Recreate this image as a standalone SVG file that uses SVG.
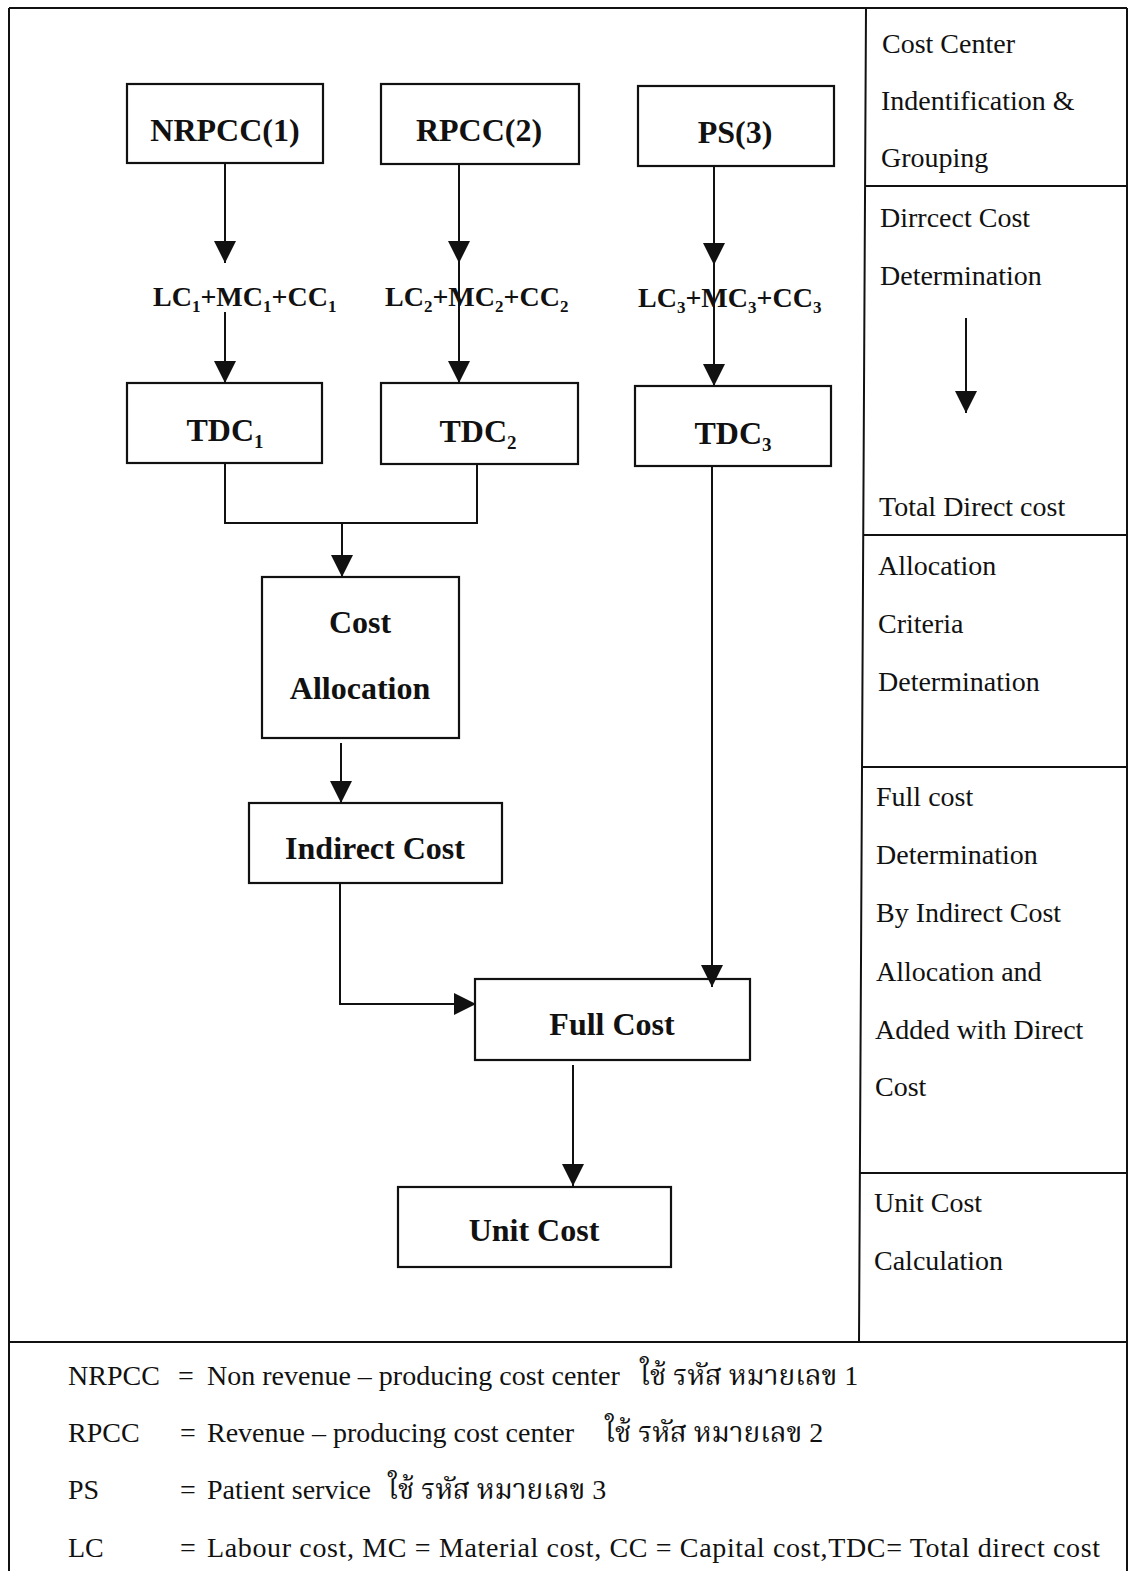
<svg xmlns="http://www.w3.org/2000/svg" width="1132" height="1571" viewBox="0 0 1132 1571">
<style>
.frame{fill:none;stroke:#111;stroke-width:2}
.box{fill:#fff;stroke:#111;stroke-width:2.2}
.lbl{font-family:"Liberation Serif","Times New Roman",serif;font-weight:bold;font-size:32px;fill:#111;text-anchor:middle}
.frm{font-family:"Liberation Serif","Times New Roman",serif;font-weight:bold;font-size:28px;fill:#111}
.side{font-family:"Liberation Serif","Times New Roman",serif;font-size:28px;fill:#111}
.leg{font-family:"Liberation Serif","Times New Roman",serif;font-size:28px;fill:#111}
.thai{font-family:"Liberation Serif","Noto Serif Thai","Noto Sans Thai","Tlwg Typo",serif;font-size:28px;fill:#111}
.con{fill:none;stroke:#111;stroke-width:2}
</style>
<defs>
<marker id="ah" markerUnits="userSpaceOnUse" markerWidth="22" markerHeight="22" viewBox="0 0 20 20" refX="20" refY="10" orient="auto">
<path d="M0,0 L20,10 L0,20 z" fill="#111"/>
</marker>
</defs>
<rect width="1132" height="1571" fill="#fff"/>

<g id="frame">
<path class="frame" d="M9,8 L1127,8 M9,8 L9,1580 M1127,8 L1127,1580 M9,1342 L1127,1342"/>
<path class="frame" d="M866,8 L859,1342 M865,186 L1127,186 M863,535 L1127,535 M862,767 L1127,767 M860,1173 L1127,1173"/>
</g>

<g id="side-labels">
<text class="side" x="882" y="53">Cost Center</text>
<text class="side" x="881" y="110">Indentification &amp;</text>
<text class="side" x="881" y="167">Grouping</text>
<text class="side" x="880" y="227">Dirrcect Cost</text>
<text class="side" x="880" y="285">Determination</text>
<text class="side" x="879" y="516">Total Direct cost</text>
<text class="side" x="878" y="575">Allocation</text>
<text class="side" x="878" y="633">Criteria</text>
<text class="side" x="878" y="691">Determination</text>
<text class="side" x="876" y="806">Full cost</text>
<text class="side" x="876" y="864">Determination</text>
<text class="side" x="876" y="922">By Indirect Cost</text>
<text class="side" x="876" y="981">Allocation and</text>
<text class="side" x="875" y="1039">Added with Direct</text>
<text class="side" x="875" y="1096">Cost</text>
<text class="side" x="874" y="1212">Unit Cost</text>
<text class="side" x="874" y="1270">Calculation</text>
</g>

<g id="n-nrpcc"><rect class="box" x="127" y="84" width="196" height="79"/><text class="lbl" x="225" y="141">NRPCC(1)</text></g>
<g id="n-rpcc"><rect class="box" x="381" y="84" width="198" height="80"/><text class="lbl" x="479" y="141">RPCC(2)</text></g>
<g id="n-ps"><rect class="box" x="638" y="86" width="196" height="80"/><text class="lbl" x="735" y="143">PS(3)</text></g>

<g id="f1"><text class="frm" x="153" y="306">LC<tspan font-size="17" dy="6">1</tspan><tspan dy="-6">+MC</tspan><tspan font-size="17" dy="6">1</tspan><tspan dy="-6">+CC</tspan><tspan font-size="17" dy="6">1</tspan></text></g>
<g id="f2"><text class="frm" x="385" y="306">LC<tspan font-size="17" dy="6">2</tspan><tspan dy="-6">+MC</tspan><tspan font-size="17" dy="6">2</tspan><tspan dy="-6">+CC</tspan><tspan font-size="17" dy="6">2</tspan></text></g>
<g id="f3"><text class="frm" x="638" y="307">LC<tspan font-size="17" dy="6">3</tspan><tspan dy="-6">+MC</tspan><tspan font-size="17" dy="6">3</tspan><tspan dy="-6">+CC</tspan><tspan font-size="17" dy="6">3</tspan></text></g>

<g id="n-tdc1"><rect class="box" x="127" y="383" width="195" height="80"/><text class="lbl" x="225" y="441">TDC<tspan font-size="19" dy="7">1</tspan></text></g>
<g id="n-tdc2"><rect class="box" x="381" y="383" width="197" height="81"/><text class="lbl" x="478" y="442">TDC<tspan font-size="19" dy="7">2</tspan></text></g>
<g id="n-tdc3"><rect class="box" x="635" y="386" width="196" height="80"/><text class="lbl" x="733" y="444">TDC<tspan font-size="19" dy="7">3</tspan></text></g>

<g id="n-alloc"><rect class="box" x="262" y="577" width="197" height="161"/><text class="lbl" x="360" y="633">Cost</text><text class="lbl" x="360" y="699">Allocation</text></g>
<g id="n-indirect"><rect class="box" x="249" y="803" width="253" height="80"/><text class="lbl" x="375" y="859">Indirect Cost</text></g>
<g id="n-full"><rect class="box" x="475" y="979" width="275" height="81"/><text class="lbl" x="612" y="1035">Full Cost</text></g>
<g id="n-unit"><rect class="box" x="398" y="1187" width="273" height="80"/><text class="lbl" x="534" y="1241">Unit Cost</text></g>

<g id="connectors">
<path class="con" d="M225,163 L225,263" marker-end="url(#ah)"/>
<path class="con" d="M459,164 L459,263" marker-end="url(#ah)"/>
<path class="con" d="M714,166 L714,265" marker-end="url(#ah)"/>
<path class="con" d="M225,312 L225,383" marker-end="url(#ah)"/>
<path class="con" d="M459,263 L459,383" marker-end="url(#ah)"/>
<path class="con" d="M714,265 L714,386" marker-end="url(#ah)"/>
<path class="con" d="M225,463 L225,523 L477,523 L477,464"/>
<path class="con" d="M342,523 L342,577" marker-end="url(#ah)"/>
<path class="con" d="M341,743 L341,803" marker-end="url(#ah)"/>
<path class="con" d="M340,883 L340,1004 L476,1004" marker-end="url(#ah)"/>
<path class="con" d="M712,466 L712,987" marker-end="url(#ah)"/>
<path class="con" d="M573,1065 L573,1186" marker-end="url(#ah)"/>
<path class="con" d="M966,318 L966,413" marker-end="url(#ah)"/>
</g>

<g id="legend">
<text class="leg" x="68" y="1385">NRPCC</text><text class="leg" x="178" y="1385">=</text>
<text class="leg" x="207" y="1385">Non revenue – producing cost center</text><text class="thai" x="640" y="1385">ใช้ รหัส หมายเลข 1</text>
<text class="leg" x="68" y="1442">RPCC</text><text class="leg" x="180" y="1442">=</text>
<text class="leg" x="207" y="1442">Revenue – producing cost center</text><text class="thai" x="605" y="1442">ใช้ รหัส หมายเลข 2</text>
<text class="leg" x="68" y="1499">PS</text><text class="leg" x="180" y="1499">=</text>
<text class="leg" x="207" y="1499">Patient service</text><text class="thai" x="388" y="1499">ใช้ รหัส หมายเลข 3</text>
<text class="leg" x="68" y="1557">LC</text><text class="leg" x="180" y="1557">=</text>
<text class="leg" x="207" y="1557" textLength="893" lengthAdjust="spacing">Labour cost, MC = Material cost, CC = Capital cost,TDC= Total direct cost</text>
</g>
</svg>
